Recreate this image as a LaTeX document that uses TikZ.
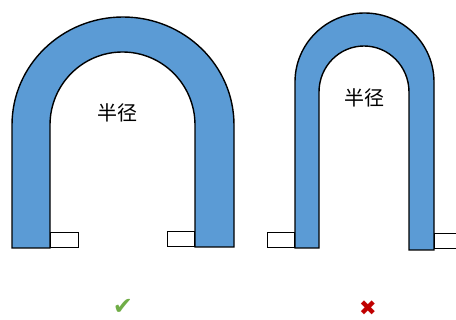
\documentclass[tikz,border=0pt]{standalone}
\usepackage{fontspec}
\newfontfamily\cjk{Noto Sans CJK SC}
\newfontfamily\sym{DejaVu Sans}
\definecolor{archblue}{HTML}{5B9BD5}
\definecolor{okgreen}{HTML}{70AD47}
\definecolor{badred}{HTML}{C00000}
\begin{document}
\begin{tikzpicture}[x=1pt,y=-1pt,
  arch/.style={draw=black,line width=1.4pt,fill=archblue,line join=miter},
  foot/.style={draw=black,line width=1.2pt,fill=white},
  lbl/.style={font=\cjk\fontsize{20}{20}\selectfont,inner sep=0pt},
  symb/.style={inner sep=0pt,text height=15pt,text depth=1pt}]
\useasboundingbox (0,0) rectangle (456,320);
% left (correct) arch
\draw[arch] (12,248) -- (12,125)
  arc[start angle=180,end angle=360,x radius=111,y radius=108]
  -- (234,247) -- (195,247) -- (195,125)
  arc[start angle=360,end angle=180,x radius=72.5,y radius=73]
  -- (50,248) -- cycle;
\node[foot,minimum width=28pt,minimum height=15pt,inner sep=0pt,anchor=south west] (fl1) at (50,248) {};
\node[foot,minimum width=27pt,minimum height=15pt,inner sep=0pt,anchor=south east] (fl2) at (195,247) {};
\node[lbl] (t1) at (117,113) {半径};
% right (wrong) arch
\draw[arch] (295,248) -- (295,82)
  arc[start angle=180,end angle=360,x radius=69.5,y radius=69]
  -- (434,250) -- (409,250) -- (409,92)
  arc[start angle=360,end angle=180,x radius=45,y radius=46]
  -- (319,248) -- cycle;
\node[foot,minimum width=27pt,minimum height=15pt,inner sep=0pt,anchor=south east] (fr1) at (295,248) {};
\node[foot,minimum width=25pt,minimum height=15pt,inner sep=0pt,anchor=south west] (fr2) at (434,249) {};
\node[lbl] (t2) at (364,98) {半径};
% marks
\node[symb,text=okgreen,font=\sym\fontsize{24}{24}\selectfont] (ok) at (123,308) {✔};
\node[symb,text=badred,font=\sym\fontsize{21}{21}\selectfont] (bad) at (368,309) {✖};
\end{tikzpicture}
\end{document}
